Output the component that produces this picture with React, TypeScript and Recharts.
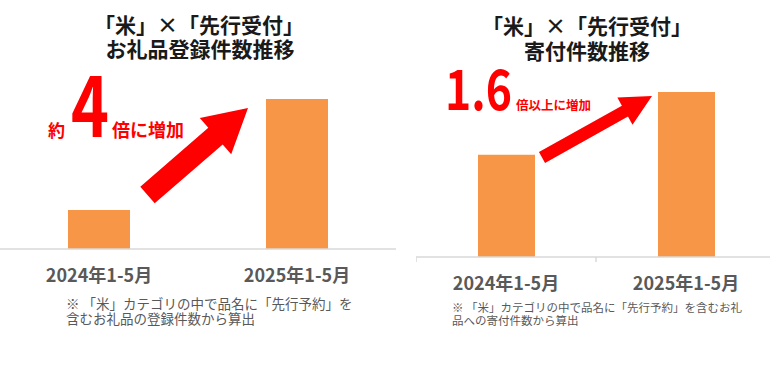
import React from 'react';
import { BarChart, Bar, XAxis, YAxis } from 'recharts';

const periods = ['2024年1-5月', '2025年1-5月'];
// relative values (2025年1-5月 = 100)
const listingIndex = [26, 100];
const donationIndex = [62, 100];

const listingData = periods.map((period, i) => ({ period, value: listingIndex[i] }));
const donationData = periods.map((period, i) => ({ period, value: donationIndex[i] }));

const FONT = '"Noto Sans CJK JP", "Noto Sans", sans-serif';
const BAR = '#F79646';
const RED = '#FF0000';
const GRAY = '#595959';
const AXIS = '#D9D9D9';

const PeriodTick = ({ x, y, payload, band, marks, dy }: any) => (
  <g>
    {marks && <line x1={x - band / 2} x2={x - band / 2} y1={y} y2={y + 5} stroke={AXIS} strokeWidth={1.5} />}
    <text x={x} y={y} dy={dy} textAnchor="middle" fontFamily={FONT} fontWeight={700} fontSize={18} fill={GRAY}>
      {payload.value}
    </text>
  </g>
);

const arrowPoints = (tx: number, ty: number, hx: number, hy: number, shaft: number, headW: number, headL: number) => {
  const len = Math.hypot(hx - tx, hy - ty);
  const ux = (hx - tx) / len;
  const uy = (hy - ty) / len;
  const px = -uy;
  const py = ux;
  const bx = hx - ux * headL;
  const by = hy - uy * headL;
  const pts = [
    [tx + px * shaft / 2, ty + py * shaft / 2],
    [bx + px * shaft / 2, by + py * shaft / 2],
    [bx + px * headW / 2, by + py * headW / 2],
    [hx, hy],
    [bx - px * headW / 2, by - py * headW / 2],
    [bx - px * shaft / 2, by - py * shaft / 2],
    [tx - px * shaft / 2, ty - py * shaft / 2],
  ];
  return pts.map((p) => p.join(',')).join(' ');
};

const App = () => {
  return (
    <div style={{ position: 'absolute', left: 0, top: 0, width: 770, height: 379, overflow: 'hidden', background: '#fff', fontFamily: FONT }}>
      <div style={{ position: 'absolute', left: 0, top: 0 }}>
        <BarChart width={396} height={300} data={listingData} margin={{ top: 99, right: 0, left: 0, bottom: 0 }}>
          <YAxis hide domain={[0, 100]} />
          <XAxis
            dataKey="period"
            height={51}
            interval={0}
            tickSize={0}
            tickMargin={0}
            axisLine={{ stroke: AXIS, strokeWidth: 1.5 }}
            tickLine={false}
            tick={<PeriodTick band={198} marks={false} dy={33} />}
          />
          <Bar dataKey="value" fill={BAR} barSize={62} isAnimationActive={false} />
        </BarChart>
      </div>
      <div style={{ position: 'absolute', left: 416, top: 0 }}>
        <BarChart width={360} height={300} data={donationData} margin={{ top: 92, right: 0, left: 0, bottom: 0 }}>
          <YAxis hide domain={[0, 100]} />
          <XAxis
            dataKey="period"
            height={43}
            interval={0}
            tickSize={0}
            tickMargin={0}
            axisLine={{ stroke: AXIS, strokeWidth: 1.5 }}
            tickLine={false}
            tick={<PeriodTick band={180} marks dy={33} />}
          />
          <Bar dataKey="value" fill={BAR} barSize={57} isAnimationActive={false} />
        </BarChart>
      </div>

      <svg width={770} height={379} style={{ position: 'absolute', left: 0, top: 0, pointerEvents: 'none' }} fontFamily={FONT}>
        {/* titles */}
        <g fontWeight={700} fill="#1a1a1a" fontSize={21} textAnchor="middle">
          <text x={199} y={32.5}>「米」×「先行受付」</text>
          <text x={200} y={57}>お礼品登録件数推移</text>
          <text x={587} y={33.5}>「米」×「先行受付」</text>
          <text x={587} y={59}>寄付件数推移</text>
        </g>

        {/* arrows */}
        <polygon points={arrowPoints(147.5, 195, 248, 108, 22, 48, 43)} fill={RED} />
        <polygon points={arrowPoints(542, 157.5, 652, 96, 12.5, 31, 31)} fill={RED} />

        {/* callouts */}
        <g fill={RED} fontWeight={700}>
          <text x={48} y={137} fontSize={17}>約</text>
          <text x={71} y={137} fontSize={84} textLength={38} lengthAdjust="spacingAndGlyphs">4</text>
          <text x={112} y={137} fontSize={18}>倍に増加</text>
          <text x={445} y={110} fontSize={55} textLength={67} lengthAdjust="spacingAndGlyphs">1.6</text>
          <text x={516} y={110} fontSize={12.5}>倍以上に増加</text>
        </g>

        {/* notes */}
        <g fill={GRAY} fontSize={13.5}>
          <text x={66} y={309}>※ 「米」カテゴリの中で品名に「先行予約」を</text>
          <text x={66} y={324}>含むお礼品の登録件数から算出</text>
        </g>
        <g fill={GRAY} fontSize={11.5}>
          <text x={452} y={311.5}>※ 「米」カテゴリの中で品名に「先行予約」を含むお礼</text>
          <text x={452} y={324.5}>品への寄付件数から算出</text>
        </g>
      </svg>
    </div>
  );
};

export default App;
